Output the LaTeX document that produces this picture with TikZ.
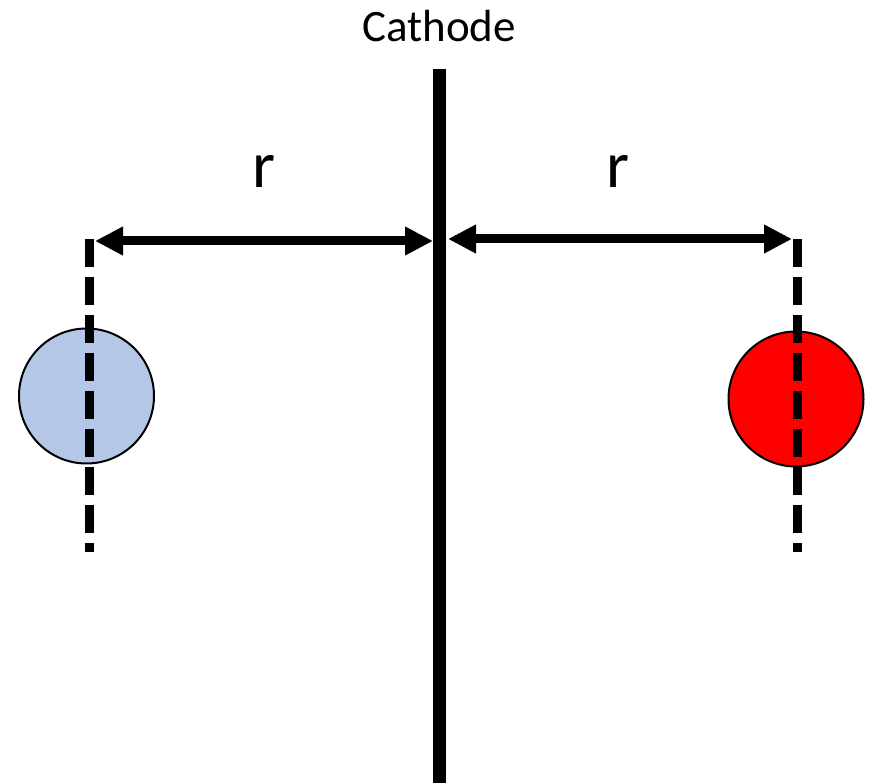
\documentclass[tikz,border=0pt]{standalone}
\usepackage{fontspec}
\setmainfont{Carlito}
\usetikzlibrary{arrows.meta, positioning}

\definecolor{ionblue}{HTML}{B4C7E7}
\definecolor{ionred}{HTML}{FF0000}

\begin{document}
\begin{tikzpicture}[x=1pt, y=-1pt,
  dimarrow/.style={{Triangle[length=28pt,width=27pt]}-{Triangle[length=28pt,width=27pt]}, line width=9pt},
  axisline/.style={line width=9pt, dash pattern=on 28pt off 10pt},
  ion/.style={circle, draw, line width=2pt, minimum size=135pt, inner sep=0pt}]
  \useasboundingbox (0,0) rectangle (876,783);

  % Cathode
  \coordinate (cattop) at (439,69);
  \coordinate (catbot) at (439,783);
  \draw[line width=13pt] (cattop) -- (catbot);
  \node[anchor=base] (catlabel) at (439,42) {\fontsize{45}{54}\selectfont Cathode};

  % Ions
  \node[ion, fill=ionblue] (anion) at (86.5,396) {};
  \node[ion, fill=ionred] (cation) at (796,399) {};

  % Dashed axes through the ions
  \coordinate (ltop) at (89.5,239);
  \coordinate (lbot) at (89.5,552);
  \coordinate (rtop) at (797,239);
  \coordinate (rbot) at (797,552);
  \draw[axisline] (ltop) -- (lbot);
  \draw[axisline] (rtop) -- (rbot);

  % Distance arrows
  \coordinate (lstart) at (95,241);
  \coordinate (lcat) at (433,241);
  \coordinate (rcat) at (448,239);
  \coordinate (rend) at (792,239);
  \draw[dimarrow] (lstart) -- (lcat);
  \draw[dimarrow] (rcat) -- (rend);

  % Distance labels
  \node[anchor=base] (lr) at (264,188) {\fontsize{66}{79}\selectfont r};
  \node[anchor=base] (rr) at (618,188) {\fontsize{66}{79}\selectfont r};
\end{tikzpicture}
\end{document}
